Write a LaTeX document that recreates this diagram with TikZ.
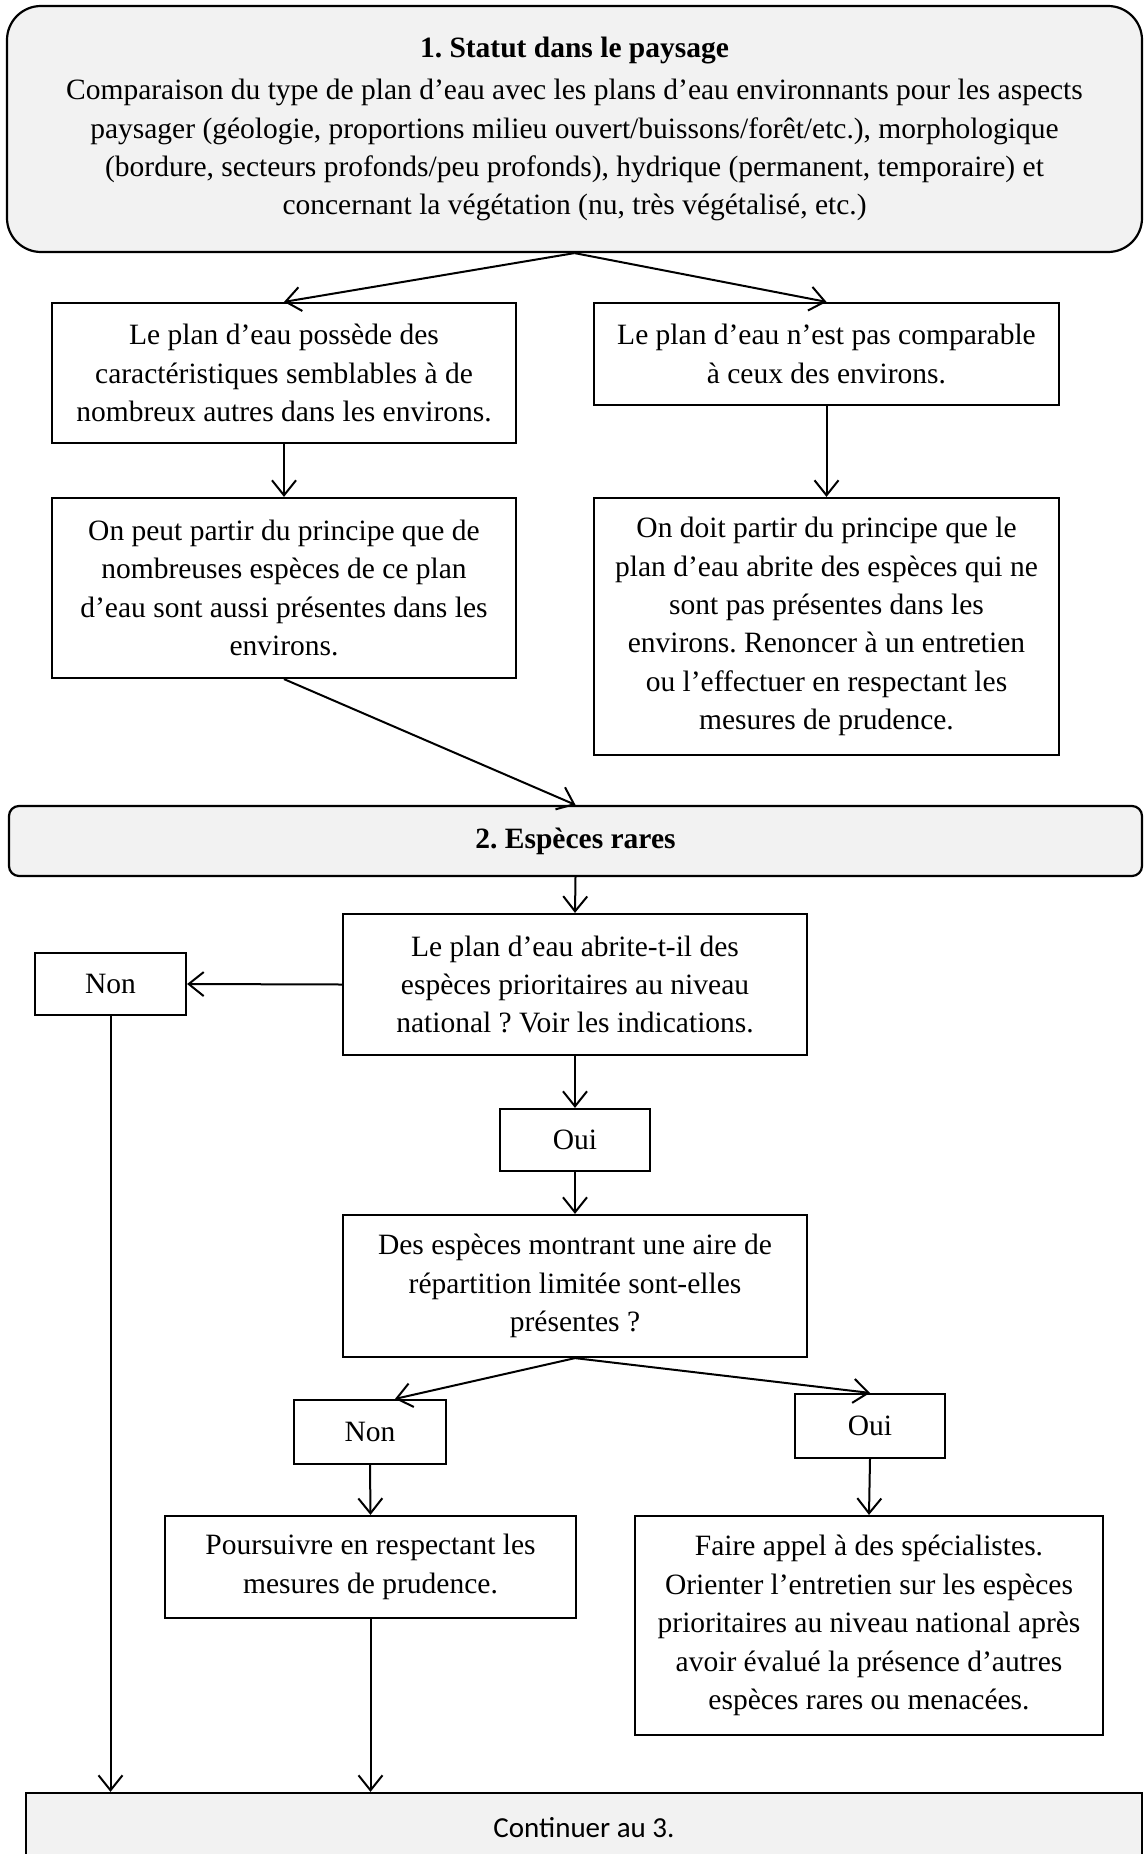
\documentclass[tikz,border=0pt]{standalone}
\usepackage{fontspec}
\setmainfont{Liberation Serif}
\newfontfamily\calib{Carlito}
\usetikzlibrary{arrows.meta,calc}
\definecolor{boxgray}{HTML}{F2F2F2}
\frenchspacing
\begin{document}
\begin{tikzpicture}[x=1pt,y=-1pt,
  every node/.style={inner sep=0pt, align=center, font=\fontsize{29.5}{38.4}\selectfont},
  plainbox/.style={draw, line width=2.2pt},
  headbox/.style={draw, line width=2.2pt, fill=boxgray},
  arr/.style={line width=2pt, -{Straight Barb[length=15pt,width=24pt,line width=2pt]}}]
\useasboundingbox (0,0) rectangle (1144,1854);

\node[headbox, rounded corners=34pt, minimum width=1135, minimum height=246] (s1) at (574.5,129)
  {\textbf{1. Statut dans le paysage}\\[4pt]
   Comparaison du type de plan d’eau avec les plans d’eau environnants pour les aspects\\
   paysager (géologie, proportions milieu ouvert/buissons/forêt/etc.), morphologique\\
   (bordure, secteurs profonds/peu profonds), hydrique (permanent, temporaire) et\\
   concernant la végétation (nu, très végétalisé, etc.)};

\node[plainbox, minimum width=464, minimum height=140] (a) at (284,373)
  {Le plan d’eau possède des\\caractéristiques semblables à de\\nombreux autres dans les environs.};
\node[plainbox, minimum width=465, minimum height=102] (b) at (826.5,354)
  {Le plan d’eau n’est pas comparable\\à ceux des environs.};
\node[plainbox, minimum width=464, minimum height=180] (c) at (284,588)
  {On peut partir du principe que de\\nombreuses espèces de ce plan\\d’eau sont aussi présentes dans les\\environs.};
\node[plainbox, minimum width=465, minimum height=257] (d) at (826.5,626.5)
  {On doit partir du principe que le\\plan d’eau abrite des espèces qui ne\\sont pas présentes dans les\\environs. Renoncer à un entretien\\ou l’effectuer en respectant les\\mesures de prudence.};

\node[headbox, rounded corners=10pt, minimum width=1133, minimum height=70] (s2) at (575.5,841)
  {\textbf{2. Espèces rares}};

\node[plainbox, minimum width=464, minimum height=141] (q1) at (575,984.5)
  {Le plan d’eau abrite-t-il des\\espèces prioritaires au niveau\\national ? Voir les indications.};
\node[plainbox, minimum width=151, minimum height=62] (non1) at (110.5,984) {Non};
\node[plainbox, minimum width=150, minimum height=62] (oui1) at (575,1140) {Oui};
\node[plainbox, minimum width=464, minimum height=142] (q2) at (575,1286)
  {Des espèces montrant une aire de\\répartition limitée sont-elles\\présentes ?};
\node[plainbox, minimum width=152, minimum height=64] (non2) at (370,1432) {Non};
\node[plainbox, minimum width=150, minimum height=64] (oui2) at (870,1426) {Oui};
\node[plainbox, minimum width=411, minimum height=102] (pours) at (370.5,1567)
  {Poursuivre en respectant les\\mesures de prudence.};
\node[plainbox, minimum width=468, minimum height=219] (faire) at (869,1625.5)
  {Faire appel à des spécialistes.\\Orienter l’entretien sur les espèces\\prioritaires au niveau national après\\avoir évalué la présence d’autres\\espèces rares ou menacées.};
\node[headbox, minimum width=1116, minimum height=70, font=\calib\fontsize{29}{36}\selectfont] (cont) at (584,1828)
  {Continuer au 3.};

\draw[arr] (s1.south) -- (a.north);
\draw[arr] (s1.south) -- (b.north);
\draw[arr] (a.south) -- (c.north);
\draw[arr] (b.south) -- (d.north);
\draw[arr] (c.south) -- (s2.north);
\draw[arr] (s2.south) -- (q1.north);
\draw[arr] (q1.west) -- (non1.east);
\draw[arr] (q1.south) -- (oui1.north);
\draw[arr] (oui1.south) -- (q2.north);
\draw[arr] (q2.south) -- ([xshift=25pt]non2.north);
\draw[arr] (q2.south) -- (oui2.north);
\draw[arr] (non2.south) -- (pours.north);
\draw[arr] (oui2.south) -- (faire.north);
\draw[arr] (non1.south) -- (non1.south |- cont.north);
\draw[arr] (pours.south) -- (pours.south |- cont.north);
\end{tikzpicture}
\end{document}
